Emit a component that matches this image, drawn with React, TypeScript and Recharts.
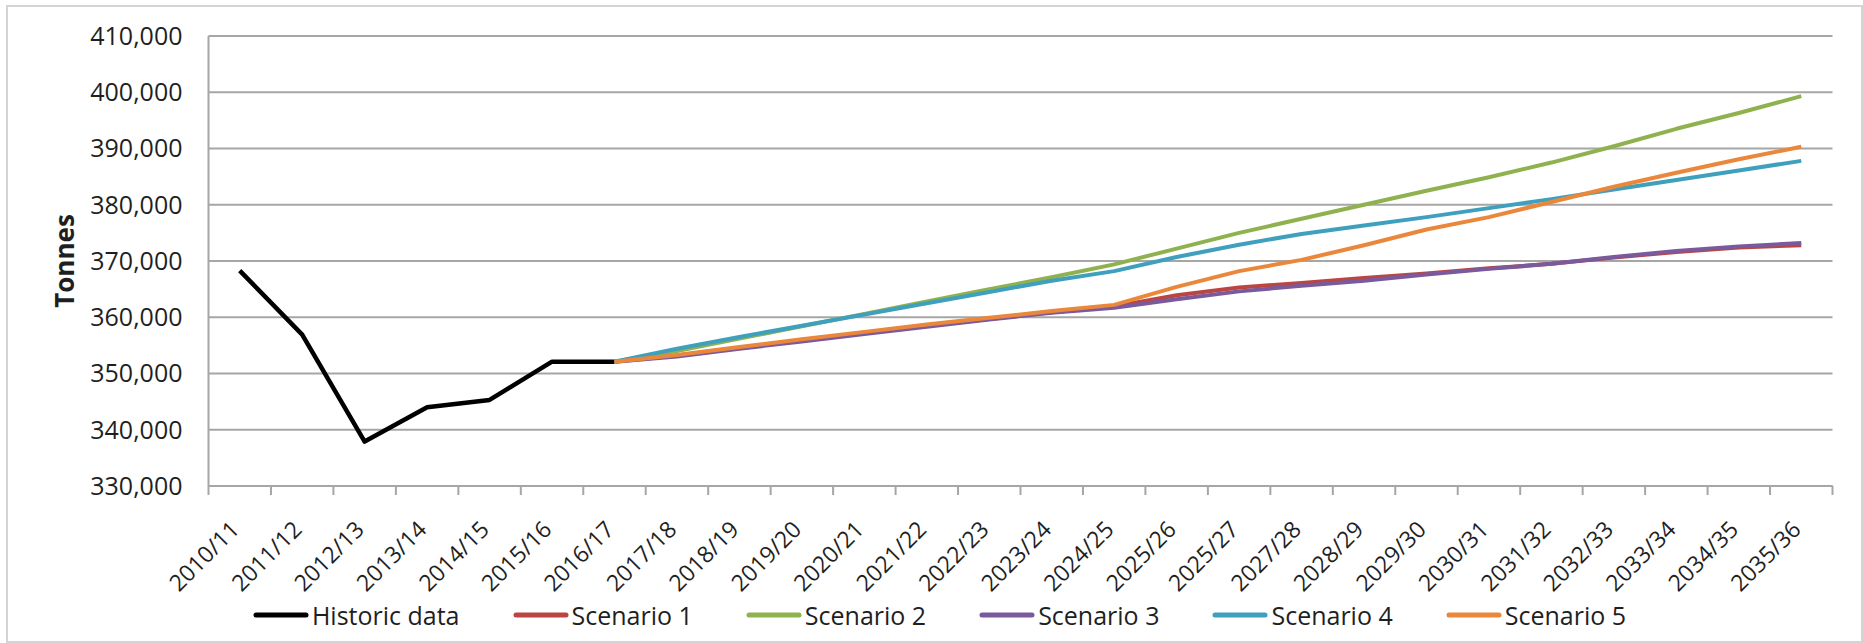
import React from 'react';
import { LineChart, Line, XAxis, YAxis, CartesianGrid, Legend } from 'recharts';

const categories = [
  '2010/11', '2011/12', '2012/13', '2013/14', '2014/15', '2015/16', '2016/17',
  '2017/18', '2018/19', '2019/20', '2020/21', '2021/22', '2022/23', '2023/24',
  '2024/25', '2025/26', '2025/27', '2027/28', '2028/29', '2029/30', '2030/31',
  '2031/32', '2032/33', '2033/34', '2034/35', '2035/36',
];

const N6 = [null, null, null, null, null, null];

const historicData = [368300, 356900, 337900, 344000, 345300, 352100, 352100,
  null, null, null, null, null, null, null, null, null, null, null, null, null,
  null, null, null, null, null, null];

const scenario1 = [...N6, 352100, 353200, 354600, 355900, 357200, 358500, 359700, 360900,
  361900, 363900, 365300, 366100, 367000, 367800, 368700, 369500, 370600, 371600, 372400, 372800];

const scenario2 = [...N6, 352100, 354000, 356200, 358400, 360600, 362800, 365000, 367100,
  369400, 372200, 375000, 377500, 380000, 382500, 384900, 387500, 390400, 393500, 396300, 399300];

const scenario3 = [...N6, 352100, 353000, 354400, 355700, 357000, 358300, 359600, 360800,
  361700, 363200, 364600, 365600, 366500, 367600, 368600, 369500, 370700, 371800, 372600, 373200];

const scenario4 = [...N6, 352100, 354400, 356500, 358500, 360500, 362500, 364500, 366500,
  368200, 370700, 372900, 374800, 376300, 377800, 379400, 381000, 382700, 384400, 386100, 387800];

const scenario5 = [...N6, 352100, 353300, 354700, 356100, 357400, 358700, 359900, 361100,
  362200, 365400, 368200, 370200, 372800, 375600, 377800, 380500, 383200, 385700, 388100, 390300];

const yTicks = [330000, 340000, 350000, 360000, 370000, 380000, 390000, 400000, 410000];

const seriesKeys = ['historic', 's1', 's2', 's3', 's4', 's5'];
const seriesNames = ['Historic data', 'Scenario 1', 'Scenario 2', 'Scenario 3', 'Scenario 4', 'Scenario 5'];
const seriesColors = ['#000000', '#BA4541', '#8FB24E', '#7A5A9C', '#3FA0BE', '#EA873B'];
const seriesWidths = [4.5, 4, 4, 4, 4, 4];

const data = categories.map((c, i) => ({
  category: c,
  historic: historicData[i],
  s1: scenario1[i],
  s2: scenario2[i],
  s3: scenario3[i],
  s4: scenario4[i],
  s5: scenario5[i],
}));

const W = 1863;
const H = 643;
const MARGIN = { top: 36, right: 30.5, left: 0, bottom: 8 };
const YAXIS_W = 208.5;
const XAXIS_H = 105;
const LEGEND_H = 44;
const BAND = (W - MARGIN.left - MARGIN.right - YAXIS_W) / categories.length;
const FONT = "'Open Sans', sans-serif";
const TEXT = '#1f1f1f';
const GRID = '#a6a6a6';

const XTick = (props: any) => {
  const { x, y, payload, index } = props;
  const half = BAND / 2;
  const tx = x + 1;
  const ty = y + 45;
  return (
    <g>
      <line x1={x - half} y1={y} x2={x - half} y2={y + 9} stroke={GRID} strokeWidth={2} />
      {index === categories.length - 1 && (
        <line x1={x + half} y1={y} x2={x + half} y2={y + 9} stroke={GRID} strokeWidth={2} />
      )}
      <text
        x={tx}
        y={ty}
        transform={`rotate(-45, ${tx}, ${ty})`}
        textAnchor="end"
        fontSize={23}
        fontFamily={FONT}
        fill={TEXT}
      >
        {payload.value}
      </text>
    </g>
  );
};

const TonnesLabel = (props: any) => {
  const vb = props.viewBox || {};
  const cx = (vb.x ?? 0) + 64;
  const cy = (vb.y ?? MARGIN.top) + (vb.height ?? 450) / 2;
  return (
    <text
      x={cx}
      y={cy}
      transform={`rotate(-90, ${cx}, ${cy})`}
      textAnchor="middle"
      dominantBaseline="central"
      fontSize={26}
      fontWeight={700}
      fontFamily={FONT}
      fill={TEXT}
    >
      Tonnes
    </text>
  );
};

const LegendContent = (props: any) => {
  const payload = props.payload && props.payload.length
    ? props.payload
    : seriesNames.map((n, i) => ({ value: n, color: seriesColors[i] }));
  return (
    <div
      style={{
        display: 'flex',
        justifyContent: 'center',
        alignItems: 'center',
        height: LEGEND_H,
        paddingLeft: 16,
        fontFamily: FONT,
        fontSize: 25,
        color: TEXT,
      }}
    >
      {payload.map((entry: any, i: number) => (
        <div key={entry.value} style={{ display: 'flex', alignItems: 'center', marginLeft: i ? 53 : 0 }}>
          <svg width={56} height={10} style={{ display: 'block' }}>
            <line x1={3} y1={5} x2={53} y2={5} stroke={entry.color} strokeWidth={5} strokeLinecap="round" />
          </svg>
          <span style={{ marginLeft: 3, whiteSpace: 'nowrap', lineHeight: `${LEGEND_H}px` }}>{entry.value}</span>
        </div>
      ))}
    </div>
  );
};

export default function App() {
  return (
    <div style={{ position: 'absolute', left: 0, top: 0, width: W, height: H, background: '#fff' }}>
      <div
        style={{
          position: 'absolute',
          left: 6,
          top: 5,
          width: 1857,
          height: 638,
          border: '2px solid #d4d4d4',
          boxSizing: 'border-box',
        }}
      />
      <div style={{ position: 'absolute', left: 0, top: 0 }}>
        <LineChart width={W} height={H} data={data} margin={MARGIN} style={{ fontFamily: FONT }}>
          <CartesianGrid vertical={false} stroke={GRID} strokeWidth={2} />
          <XAxis
            dataKey="category"
            interval={0}
            height={XAXIS_H}
            padding={{ left: BAND / 2, right: BAND / 2 }}
            tickSize={0}
            tickMargin={0}
            tickLine={false}
            axisLine={{ stroke: GRID, strokeWidth: 2 }}
            tick={<XTick />}
          />
          <YAxis
            width={YAXIS_W}
            domain={[330000, 410000]}
            ticks={yTicks}
            interval={0}
            tickSize={0}
            tickMargin={26}
            tickLine={false}
            axisLine={{ stroke: GRID, strokeWidth: 2 }}
            tick={{ fontSize: 25, fill: TEXT, fontFamily: FONT }}
            tickFormatter={(v: number) => v.toLocaleString('en-US')}
            label={<TonnesLabel />}
          />
          <Legend
            verticalAlign="bottom"
            content={<LegendContent />}
            wrapperStyle={{ left: 0, top: 593, width: W, height: LEGEND_H }}
          />
          {seriesKeys.map((k, i) => (
            <Line
              key={k}
              type="linear"
              dataKey={k}
              name={seriesNames[i]}
              stroke={seriesColors[i]}
              strokeWidth={seriesWidths[i]}
              dot={false}
              activeDot={false}
              isAnimationActive={false}
              connectNulls={false}
              strokeLinejoin="round"
            />
          ))}
        </LineChart>
      </div>
    </div>
  );
}
